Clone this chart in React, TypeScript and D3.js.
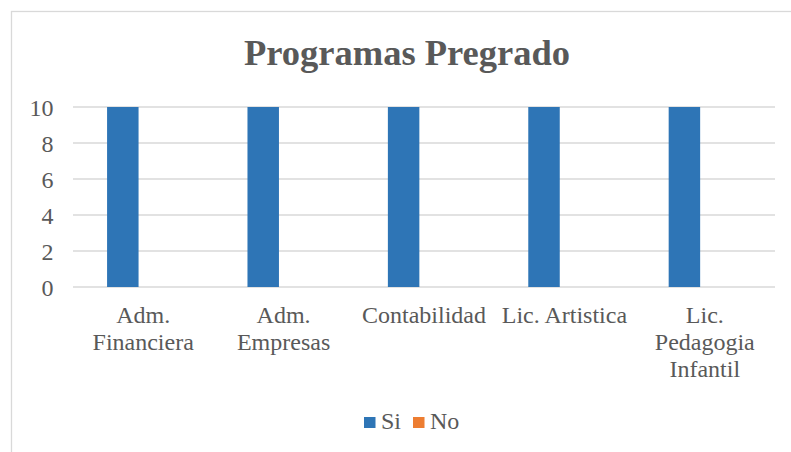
import React, { useEffect, useRef } from 'react'
import * as d3 from 'd3'

const categories = ['Adm. Financiera', 'Adm. Empresas', 'Contabilidad', 'Lic. Artistica', 'Lic. Pedagogia Infantil']
const categoryLines = [['Adm.', 'Financiera'], ['Adm.', 'Empresas'], ['Contabilidad'], ['Lic. Artistica'], ['Lic.', 'Pedagogia', 'Infantil']]
const series = ['Si', 'No']
const siValues = [10, 10, 10, 10, 10]
const noValues = [0, 0, 0, 0, 0]
const yTicks = [0, 2, 4, 6, 8, 10]
const colors = ['#2E75B6', '#ED7D31']

const W = 791
const H = 452
const font = "'Liberation Serif', Tinos, 'Times New Roman', Times, 'DejaVu Serif', serif"
const textColor = '#595959'

const App = () => {
  const ref = useRef<SVGSVGElement>(null)

  useEffect(() => {
    const svg = d3.select(ref.current)
    svg.selectAll('*').remove()

    const left = 73
    const right = 775
    const top = 107
    const bottom = 287

    // chart frame
    svg.append('rect')
      .attr('x', 11.5).attr('y', 11.5)
      .attr('width', 900).attr('height', 600)
      .attr('fill', 'white').attr('stroke', '#D9D9D9').attr('stroke-width', 1.3)

    svg.append('text')
      .attr('x', 407).attr('y', 65)
      .attr('text-anchor', 'middle')
      .style('font-family', font).attr('font-weight', 'bold').attr('font-size', 36.5)
      .attr('fill', textColor)
      .text('Programas Pregrado')

    const x0 = d3.scaleBand().domain(categories).range([left, right])
    const x1 = d3.scaleBand().domain(series).range([0, x0.bandwidth()])
      .paddingInner(0).paddingOuter(1.23).align(0.44)
    const y = d3.scaleLinear().domain([0, 10]).range([bottom, top])

    svg.append('g').selectAll('line')
      .data(yTicks).enter().append('line')
      .attr('x1', left).attr('x2', right)
      .attr('y1', (d) => y(d)).attr('y2', (d) => y(d))
      .attr('stroke', '#D9D9D9').attr('stroke-width', 1.3)

    svg.append('g').selectAll('text')
      .data(yTicks).enter().append('text')
      .attr('x', 53.5).attr('y', (d) => y(d) + 8.5)
      .attr('text-anchor', 'end')
      .style('font-family', font).attr('font-size', 24).attr('fill', textColor)
      .text((d) => d)

    const rows = categories.map((c, i) => ({ c, vals: [siValues[i], noValues[i]] }))
    const groups = svg.append('g').selectAll('g')
      .data(rows).enter().append('g')
      .attr('transform', (d) => `translate(${x0(d.c)},0)`)
    groups.selectAll('rect')
      .data((d) => d.vals.map((v, j) => ({ s: series[j], v, j })))
      .enter().append('rect')
      .attr('x', (d) => x1(d.s))
      .attr('width', x1.bandwidth())
      .attr('y', (d) => y(d.v))
      .attr('height', (d) => y(0) - y(d.v))
      .attr('fill', (d) => colors[d.j])

    const labels = svg.append('g').selectAll('text')
      .data(categories).enter().append('text')
      .attr('x', (d) => x0(d) + x0.bandwidth() / 2)
      .attr('y', 323)
      .attr('text-anchor', 'middle')
      .style('font-family', font).attr('font-size', 24).attr('fill', textColor)
    labels.selectAll('tspan')
      .data((d, i) => categoryLines[i])
      .enter().append('tspan')
      .attr('x', function () { return (this.parentNode as SVGTextElement).getAttribute('x') })
      .attr('dy', (d, i) => (i === 0 ? 0 : 27))
      .text((d) => d)

    const legendX = [364, 413]
    const leg = svg.append('g').selectAll('g')
      .data(series).enter().append('g')
      .attr('transform', (d, i) => `translate(${legendX[i]},417)`)
    leg.append('rect').attr('width', 11.5).attr('height', 11).attr('fill', (d, i) => colors[i])
    leg.append('text')
      .attr('x', 17).attr('y', 12)
      .style('font-family', font).attr('font-size', 24).attr('fill', textColor)
      .text((d) => d)
  }, [])

  return (
    <svg ref={ref} width={W} height={H} style={{ position: 'absolute', left: 0, top: 0 }}></svg>
  )
}

export default App
